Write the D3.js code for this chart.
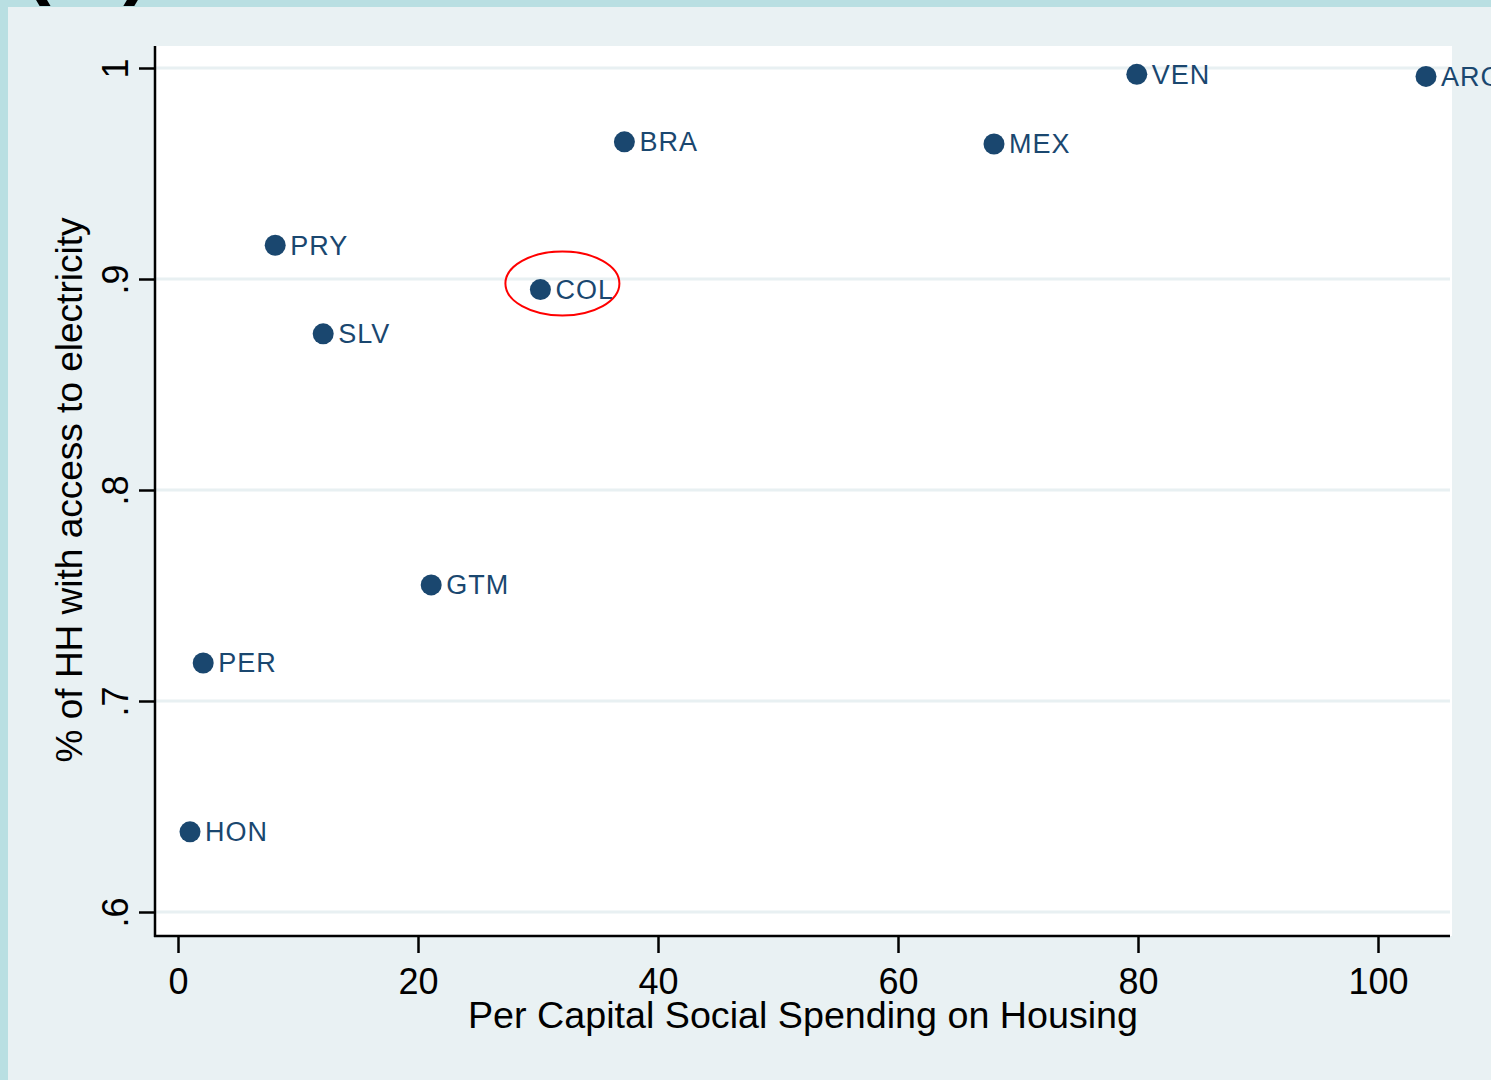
<!DOCTYPE html>
<html>
<head>
<meta charset="utf-8">
<script src="https://cdn.jsdelivr.net/npm/d3@7"></script>
<style>
    body { margin: 0; background: #e9f1f3; }
    svg { display: block; font-family: "Liberation Sans", Arial, sans-serif; }
</style>
</head>
<body>
<svg id="drawing_region"></svg>
<script>
// country codes and values
const countries = ["HON", "PER", "PRY", "SLV", "GTM", "COL", "BRA", "MEX", "VEN", "ARG"];
const spending = [1.0, 2.1, 8.1, 12.1, 21.1, 30.2, 37.2, 68.0, 79.9, 104.0];
const electricity = [0.638, 0.718, 0.916, 0.874, 0.755, 0.895, 0.965, 0.964, 0.997, 0.996];
const xTicks = [0, 20, 40, 60, 80, 100];
const yTicks = [0.6, 0.7, 0.8, 0.9, 1.0];
const yTickLabels = [".6", ".7", ".8", ".9", "1"];
const highlighted = "COL";

const data = countries.map((c, i) => ({ name: c, x: spending[i], y: electricity[i] }));

const width = 1491, height = 1080;
const plot = { left: 155, right: 1452, top: 46, bottom: 936 };

const svg = d3.select('#drawing_region')
    .attr('width', width)
    .attr('height', height);

// background and frame
svg.append('rect').attr('width', width).attr('height', height).attr('fill', '#e9f1f3');
svg.append('rect').attr('x', 0).attr('y', 0).attr('width', 8).attr('height', height).attr('fill', '#b9dfe2');
svg.append('rect').attr('x', 0).attr('y', 0).attr('width', width).attr('height', 7).attr('fill', '#b9dfe2');

// panel label, cut off at the top
svg.append('text')
    .attr('x', 24)
    .attr('y', -11)
    .style('font-size', '80px')
    .style('font-weight', 'bold')
    .style('letter-spacing', '14px')
    .attr('fill', '#000')
    .text('(a)');

svg.append('rect')
    .attr('x', plot.left)
    .attr('y', plot.top)
    .attr('width', plot.right - plot.left)
    .attr('height', plot.bottom - plot.top)
    .attr('fill', '#ffffff');

const xscale = d3.scaleLinear().domain([0, 100]).range([178, 1378]);
const yscale = d3.scaleLinear().domain([0.6, 1]).range([912, 68]);

// grid lines
svg.append('g').selectAll('line').data(yTicks).enter()
    .append('line')
    .attr('x1', plot.left)
    .attr('x2', plot.right - 2)
    .attr('y1', d => yscale(d))
    .attr('y2', d => yscale(d))
    .attr('stroke', '#e8f0f2')
    .attr('stroke-width', 3);

// axes
const xaxis = d3.axisBottom(xscale)
    .tickValues(xTicks)
    .tickSize(17)
    .tickSizeOuter(0)
    .tickFormat(d3.format('d'));

const yaxis = d3.axisLeft(yscale)
    .tickValues(yTicks)
    .tickSize(16)
    .tickSizeOuter(0)
    .tickFormat((d, i) => yTickLabels[i]);

const xaxis_group = svg.append('g')
    .attr('transform', `translate(0, ${plot.bottom})`)
    .call(xaxis);

xaxis_group.select('.domain').remove();
xaxis_group.selectAll('line').attr('stroke', '#000').attr('stroke-width', 2.5);
xaxis_group.selectAll('text')
    .attr('y', 58)
    .attr('dy', 0)
    .attr('fill', '#000')
    .style('font-size', '36px')
    .style('font-family', '"Liberation Sans", Arial, sans-serif');

const yaxis_group = svg.append('g')
    .attr('transform', `translate(${plot.left}, 0)`)
    .call(yaxis);

yaxis_group.select('.domain').remove();
yaxis_group.selectAll('line').attr('stroke', '#000').attr('stroke-width', 2.5);
yaxis_group.selectAll('text')
    .attr('x', 0)
    .attr('dy', 0)
    .attr('transform', 'translate(-27, 0) rotate(-90)')
    .attr('text-anchor', 'middle')
    .attr('fill', '#000')
    .style('font-size', '36px')
    .style('font-family', '"Liberation Sans", Arial, sans-serif');

// axis lines
svg.append('line')
    .attr('x1', plot.left).attr('x2', plot.left)
    .attr('y1', plot.top).attr('y2', plot.bottom + 1)
    .attr('stroke', '#000').attr('stroke-width', 2.5);
svg.append('line')
    .attr('x1', plot.left - 1).attr('x2', plot.right - 2)
    .attr('y1', plot.bottom).attr('y2', plot.bottom)
    .attr('stroke', '#000').attr('stroke-width', 2.5);

// axis titles
svg.append('text')
    .attr('x', 803)
    .attr('y', 1028)
    .attr('text-anchor', 'middle')
    .attr('textLength', 670)
    .attr('lengthAdjust', 'spacingAndGlyphs')
    .style('font-size', '36px')
    .attr('fill', '#000')
    .text('Per Capital Social Spending on Housing');

svg.append('text')
    .attr('transform', 'translate(82, 490) rotate(-90)')
    .attr('text-anchor', 'middle')
    .style('font-size', '37px')
    .attr('fill', '#000')
    .text('% of HH with access to electricity');

// points and labels
const points = svg.append('g');

points.selectAll('circle').data(data).enter()
    .append('circle')
    .attr('cx', d => xscale(d.x))
    .attr('cy', d => yscale(d.y))
    .attr('r', 10.5)
    .attr('fill', '#1a476f');

points.selectAll('text').data(data).enter()
    .append('text')
    .attr('x', d => xscale(d.x) + 15)
    .attr('y', d => yscale(d.y))
    .attr('dy', '0.35em')
    .style('font-size', '27px')
    .style('letter-spacing', '1px')
    .attr('fill', '#1a476f')
    .text(d => d.name);

// red ellipse around the highlighted country
const hl = data.find(d => d.name === highlighted);
svg.append('ellipse')
    .attr('cx', xscale(hl.x) + 22)
    .attr('cy', yscale(hl.y) - 6)
    .attr('rx', 57)
    .attr('ry', 32)
    .attr('fill', 'none')
    .attr('stroke', '#ff0000')
    .attr('stroke-width', 2);
</script>
</body>
</html>
